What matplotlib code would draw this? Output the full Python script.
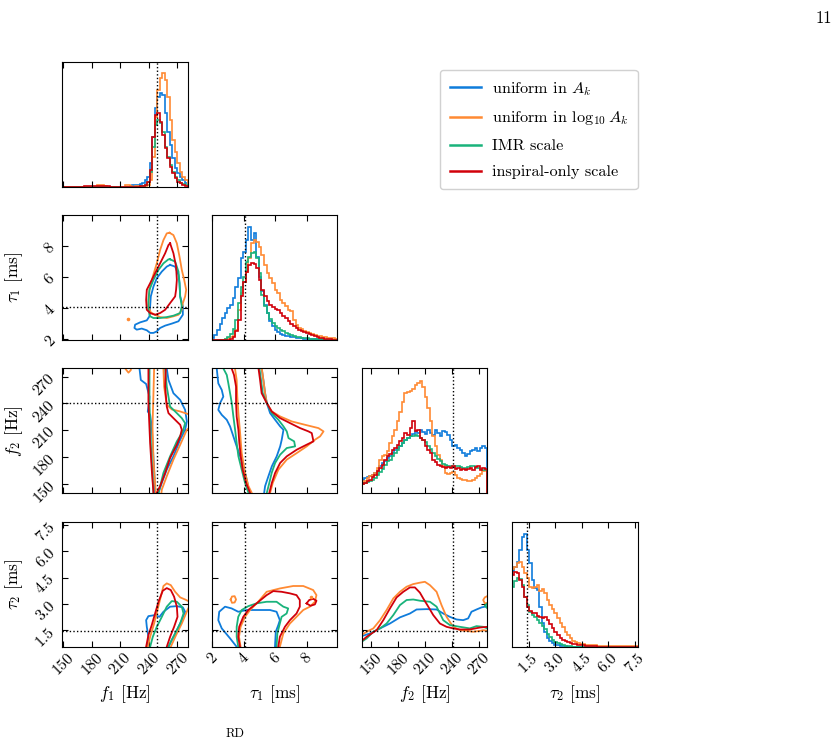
import numpy as np
import matplotlib.pyplot as plt
from matplotlib.lines import Line2D

plt.rcParams['font.family'] = 'serif'
plt.rcParams['font.serif'] = ['cmr10']
plt.rcParams['mathtext.fontset'] = 'cm'
plt.rcParams['axes.unicode_minus'] = False
plt.rcParams['axes.formatter.use_mathtext'] = True

# parameters: f1, tau1, f2, tau2
axis_labels = [r'$f_1$ [Hz]', r'$\tau_1$ [ms]', r'$f_2$ [Hz]', r'$\tau_2$ [ms]']
limits = [(148.3, 280.6), (1.96, 9.97), (139.6, 279.4), (0.55, 7.65)]
ticks = [[150, 180, 210, 240, 270], [2, 4, 6, 8], [150, 180, 210, 240, 270], [1.5, 3.0, 4.5, 6.0, 7.5]]
tick_labels = [['150', '180', '210', '240', '270'], ['2', '4', '6', '8'],
               ['150', '180', '210', '240', '270'], ['1.5', '3.0', '4.5', '6.0', '7.5']]
truths = [248.3, 4.05, 241.0, 1.43]

series = ['uniform in $A_k$', r'uniform in $\log_{10} A_k$', 'IMR scale', 'inspiral-only scale']
colors = ['#0F7CDB', '#FF8A33', '#19B37B', '#D1000A']

# ---- 1D marginals (arbitrary units) ----
f1_edges = np.linspace(148.3, 280.6, 51)
f1_blue = [0] * 27 + [3, 4, 5, 6] + [8, 12, 20, 30, 70, 150, 235, 270, 280, 275, 220, 165, 125, 85, 55, 40, 28, 20, 12]
f1_orange = [0] * 14 + [4, 5, 5, 3] + [0] * 7 + [4, 5, 3] + [0, 2, 2] + \
    [3, 3, 3, 5, 20, 90, 210, 290, 325, 340, 320, 270, 200, 140, 105, 70, 45, 30, 20]
f1_green = [0] * 31 + [2, 3, 5, 15, 45, 120, 185, 200, 190, 165, 120, 90, 65, 45, 30, 20, 12, 8, 5]
f1_red = [0] * 9 + [2, 2, 1, 2, 2, 1, 2, 2, 1, 2] + [0] * 12 + \
    [2, 3, 5, 15, 50, 150, 215, 220, 195, 155, 115, 85, 60, 40, 25, 15, 10, 5, 3]

tau1_edges = np.linspace(1.96, 9.97, 49)
tau1_blue = [5, 15, 30, 48, 65, 80, 95, 105, 125, 160, 185, 245, 265, 300, 340, 300, 320, 250, 190, 145,
             105, 80, 55, 40, 30, 22, 17, 14, 12, 10, 8, 7, 6, 5, 4, 3, 3, 2, 2, 1, 1, 1, 0, 0, 0, 0, 0, 0]
tau1_orange = [0, 0, 0, 0, 0, 2, 5, 8, 12, 30, 90, 140, 175, 205, 245, 290, 300, 295, 280, 255,
               225, 200, 185, 170, 150, 140, 120, 110, 100, 90, 85, 60, 45, 36, 32, 26, 24, 20, 17, 15,
               12, 10, 9, 8, 6, 5, 4, 3]
tau1_green = [0, 0, 0, 0, 0, 3, 8, 18, 32, 60, 110, 160, 190, 235, 250, 262, 265, 245, 200, 135,
              100, 80, 62, 50, 42, 36, 30, 25, 20, 16, 13, 11, 9, 7, 6, 5, 4, 3, 2, 2, 1, 1, 1, 0, 0, 0, 0, 0]
tau1_red = [0, 0, 0, 0, 0, 0, 0, 3, 8, 25, 60, 130, 175, 205, 225, 230, 228, 215, 180, 150,
            130, 115, 105, 98, 92, 88, 80, 72, 65, 55, 48, 42, 35, 30, 26, 22, 19, 17, 14, 10,
            8, 6, 4, 3, 2, 1, 0, 0]

f2_edges = np.linspace(139.6, 279.4, 51)
f2_blue = [38, 45, 48, 52, 55, 60, 65, 80, 90, 95, 105, 110, 120, 128, 135, 140, 150, 158, 165, 170,
           178, 185, 180, 188, 182, 178, 190, 180, 175, 188, 180, 170, 185, 182, 175, 160, 140, 145, 135, 130,
           120, 110, 118, 125, 130, 135, 125, 135, 142, 135]
f2_orange = [30, 35, 45, 52, 55, 60, 75, 100, 110, 115, 125, 150, 170, 190, 215, 245, 275, 300, 305, 308,
             312, 325, 330, 338, 320, 290, 255, 215, 170, 140, 115, 100, 80, 60, 58, 60, 62, 55, 45, 42,
             40, 40, 35, 35, 40, 45, 52, 58, 65, 70]
f2_green = [28, 30, 33, 36, 40, 45, 55, 62, 72, 85, 95, 100, 112, 120, 130, 142, 150, 158, 165, 170,
            172, 175, 170, 165, 160, 152, 140, 132, 120, 112, 102, 95, 88, 85, 82, 80, 78, 80, 82, 78,
            76, 75, 78, 80, 82, 76, 75, 72, 70, 68]
f2_red = [28, 30, 35, 40, 48, 55, 65, 75, 85, 100, 110, 118, 128, 135, 145, 155, 165, 180, 175, 195,
          215, 185, 190, 165, 160, 140, 130, 120, 100, 92, 85, 80, 78, 75, 78, 75, 80, 72, 75, 70,
          72, 68, 72, 75, 70, 78, 80, 70, 75, 72]

tau2_edges = np.linspace(0.55, 7.65, 51)
tau2_blue = [228, 238, 255, 290, 330, 338, 290, 250, 200, 175, 170, 120, 70, 45, 25, 18, 10, 6, 4, 3,
             2, 1] + [0] * 28
tau2_orange = [232, 240, 250, 255, 240, 222, 205, 180, 175, 180, 185, 168, 172, 160, 140, 125, 112, 100, 85, 70,
               58, 45, 35, 25, 18, 14, 11, 9, 8, 6, 5, 5, 4, 4, 3, 3, 3, 2, 2, 2,
               2, 2, 1, 1, 1, 1, 1, 1, 1, 1]
tau2_green = [180, 198, 205, 202, 185, 150, 125, 105, 95, 88, 80, 72, 62, 52, 38, 28, 20, 14, 10, 7,
              5, 3, 2, 1] + [0] * 26
tau2_red = [215, 225, 220, 200, 180, 150, 120, 108, 102, 100, 92, 88, 85, 90, 80, 68, 55, 45, 35, 27,
            20, 16, 13, 10, 9, 7, 6, 5, 4, 3, 3, 2, 2, 1] + [0] * 16

hist_edges = [f1_edges, tau1_edges, f2_edges, tau2_edges]
hist_values = [[f1_blue, f1_orange, f1_green, f1_red],
               [tau1_blue, tau1_orange, tau1_green, tau1_red],
               [f2_blue, f2_orange, f2_green, f2_red],
               [tau2_blue, tau2_orange, tau2_green, tau2_red]]
hist_top = [373, 375, 375, 373]

# ---- 90% credible contours, (x, y) vertices ----
# f1 (x) vs tau1 (y)
f1_tau1_blue = [(262.3, 6.77), (267.6, 6.66), (271.1, 6.13), (272.2, 5.59), (272.9, 4.74), (275.7, 4.10),
                (275.7, 3.56), (271.1, 3.14), (264.1, 2.99), (257.1, 2.86), (251.8, 2.71), (248.3, 2.49),
                (244.8, 2.39), (241.3, 2.39), (237.8, 2.56), (232.5, 2.67), (227.2, 2.60), (224.8, 2.71),
                (225.5, 2.92), (230.8, 3.07), (237.8, 3.20), (240.6, 3.46), (241.3, 4.10), (242.0, 4.74),
                (244.8, 5.38), (248.3, 5.91), (253.6, 6.34), (258.8, 6.66), (262.3, 6.77)]
f1_tau1_orange = [(261.6, 8.84), (265.8, 8.69), (269.4, 8.16), (272.2, 7.30), (274.6, 6.45), (277.1, 5.81),
                  (279.2, 5.17), (278.1, 4.74), (275.7, 4.31), (274.6, 3.88), (271.1, 3.56), (265.8, 3.46),
                  (258.8, 3.35), (251.8, 3.41), (246.5, 3.56), (242.0, 3.71), (239.5, 4.10), (240.6, 5.17),
                  (244.1, 6.02), (248.3, 6.87), (251.8, 7.73), (255.3, 8.37), (258.8, 8.80), (261.6, 8.84)]
f1_tau1_green = [(262.3, 7.13), (267.6, 6.98), (271.1, 6.34), (272.2, 5.59), (272.9, 4.74), (274.6, 4.10),
                 (272.9, 3.67), (265.8, 3.50), (258.8, 3.41), (251.8, 3.35), (244.8, 3.35), (241.3, 3.46),
                 (239.5, 3.88), (239.5, 4.52), (240.6, 5.17), (244.8, 5.81), (250.1, 6.45), (255.3, 6.87),
                 (260.6, 7.13), (262.3, 7.13)]
f1_tau1_red = [(262.3, 8.16), (265.8, 7.52), (268.6, 6.66), (269.4, 5.81), (268.6, 5.17), (267.6, 4.74),
               (262.3, 4.31), (257.1, 3.88), (251.8, 3.67), (246.5, 3.56), (241.3, 3.67), (237.8, 3.88),
               (237.1, 4.52), (237.8, 5.17), (241.3, 5.59), (246.5, 6.23), (251.8, 6.87), (257.1, 7.52),
               (260.6, 8.05), (262.3, 8.16)]
f1_tau1_orange_dot = [(218.5, 3.31)]

# f1 (x) vs f2 (y)
f1_f2_blue = [(230.1, 285), (230.1, 279.4), (231.5, 266.4), (237.1, 261.9), (240.6, 247.7), (240.2, 240.3),
              (238.8, 231.0), (241.3, 227.2), (243.0, 214.2), (244.1, 191.8), (245.5, 165.7), (246.5, 139.6),
              (246.8, 134), (249.0, 134), (250.1, 139.6), (253.6, 150.8), (258.8, 165.7), (265.8, 180.6),
              (272.9, 199.3), (278.1, 210.4), (279.9, 219.8), (278.1, 232.8), (272.9, 244.0), (265.8, 251.5),
              (260.6, 266.4), (258.8, 279.4), (258.8, 285)]
f1_f2_orange = [(245.5, 285), (245.5, 279.4), (244.8, 251.5), (243.8, 214.2), (244.8, 176.9), (247.2, 139.6),
                (247.5, 134), (252.5, 134), (253.6, 143.3), (258.8, 158.2), (265.8, 176.9), (272.9, 193.6),
                (279.9, 210.4), (284, 214), (284, 227.5), (279.9, 228.5), (272.9, 231.0), (264.1, 233.3),
                (258.8, 238.5), (256.0, 258.9), (255.3, 279.4), (255.3, 285)]
f1_f2_orange_hook = [(215.0, 285), (215.0, 279.4), (218.5, 274.6), (221.0, 277.5), (221.5, 285)]
f1_f2_green = [(240.6, 285), (240.6, 279.4), (240.6, 240.3), (242.0, 195.5), (244.8, 139.6), (245.0, 134),
               (249.0, 134), (250.1, 139.6), (255.3, 162.0), (262.3, 180.6), (269.4, 197.4), (275.7, 208.6),
               (278.1, 217.9), (274.6, 223.5), (269.4, 229.1), (262.3, 236.5), (258.8, 258.9), (257.1, 279.4),
               (257.1, 285)]
f1_f2_red = [(239.5, 285), (239.5, 240.3), (241.3, 195.5), (243.0, 165.7), (244.8, 139.6), (245.0, 134),
             (247.5, 134), (248.3, 139.6), (251.8, 147.1), (257.1, 162.0), (262.3, 178.7), (269.4, 193.6),
             (272.9, 203.0), (274.6, 210.4), (272.9, 216.0), (265.8, 223.5), (260.6, 229.1), (258.8, 236.5),
             (257.1, 258.9), (257.8, 279.4), (257.8, 285)]

# tau1 (x) vs f2 (y)
tau1_f2_blue = [(2.28, 285), (2.28, 279.4), (2.38, 262.6), (2.60, 255.2), (2.70, 247.7), (2.49, 240.3),
                (2.38, 232.8), (2.60, 227.2), (2.92, 221.6), (3.13, 214.2), (3.34, 203.0), (3.55, 191.8),
                (3.77, 180.6), (3.98, 169.4), (4.19, 154.5), (4.36, 139.6), (4.40, 134), (5.28, 134),
                (5.30, 139.6), (5.36, 147.1), (5.57, 158.2), (5.79, 169.4), (6.10, 180.6), (6.32, 191.8),
                (6.42, 199.3), (6.53, 210.4), (6.32, 214.2), (6.00, 221.6), (5.68, 229.1), (5.47, 240.3),
                (5.36, 251.5), (5.25, 266.4), (5.14, 279.4), (5.04, 285)]
tau1_f2_orange = [(3.44, 285), (3.44, 279.4), (3.55, 266.4), (3.59, 247.7), (3.66, 229.1), (3.77, 206.7),
                  (3.87, 184.3), (4.08, 162.0), (4.30, 147.1), (4.51, 139.6), (4.55, 134), (5.65, 134),
                  (5.68, 139.6), (5.85, 150.8), (6.21, 165.7), (6.74, 176.9), (7.38, 184.3), (8.01, 191.8),
                  (8.54, 199.3), (8.86, 203.0), (9.08, 208.6), (8.76, 212.3), (7.91, 216.0), (7.06, 219.8),
                  (6.32, 225.4), (5.79, 231.0), (5.47, 240.3), (5.36, 251.5), (5.25, 266.4), (5.15, 279.4),
                  (5.15, 285)]
tau1_f2_green = [(2.70, 285), (2.70, 279.4), (2.92, 272.0), (3.02, 262.6), (3.13, 251.5), (3.24, 240.3),
                 (3.34, 225.4), (3.45, 210.4), (3.55, 195.5), (3.66, 180.6), (3.87, 165.7), (4.08, 150.8),
                 (4.30, 139.6), (4.35, 134), (5.45, 134), (5.47, 139.6), (5.63, 150.8), (5.78, 162.0),
                 (6.00, 173.2), (6.32, 182.5), (6.74, 189.9), (7.27, 191.8), (7.21, 197.4), (6.85, 201.1),
                 (6.74, 208.6), (6.53, 214.2), (6.21, 221.6), (5.79, 229.1), (5.47, 240.3), (5.21, 251.5),
                 (5.10, 266.4), (5.00, 279.4), (5.00, 285)]
tau1_f2_red = [(3.23, 285), (3.23, 279.4), (3.38, 272.0), (3.51, 258.9), (3.51, 240.3), (3.55, 225.4),
               (3.66, 210.4), (3.72, 195.5), (3.81, 180.6), (3.93, 165.7), (4.15, 150.8), (4.40, 139.6),
               (4.45, 134), (5.60, 134), (5.63, 139.6), (5.79, 150.8), (6.00, 162.0), (6.32, 173.2),
               (6.74, 180.6), (7.38, 188.1), (8.01, 193.7), (8.44, 197.4), (8.33, 206.7), (8.12, 208.6),
               (7.59, 212.3), (6.95, 217.9), (6.32, 223.5), (5.78, 231.0), (5.47, 240.3), (5.14, 251.5),
               (5.04, 266.4), (4.94, 279.4), (4.94, 285)]

# f1 (x) vs tau2 (y)
f1_tau2_blue = [(239.0, 0.26), (238.5, 0.55), (239.5, 1.12), (237.8, 1.69), (237.1, 2.07), (239.5, 2.30),
                (246.5, 2.36), (251.1, 2.26), (255.3, 2.55), (262.3, 2.84), (269.4, 2.87), (275.7, 2.80),
                (278.1, 2.55), (274.6, 2.07), (269.4, 1.50), (264.1, 0.93), (260.6, 0.55), (258.8, 0.26)]
f1_tau2_orange = [(237.8, 0.26), (238.8, 0.55), (241.3, 1.12), (245.5, 1.88), (249.0, 2.65), (252.5, 3.41),
                  (255.3, 4.02), (258.8, 4.17), (263.0, 4.07), (267.6, 3.69), (272.9, 3.37), (278.1, 3.25),
                  (280.6, 3.18), (283.4, 3.12), (283.4, 2.95), (280.6, 2.65), (274.6, 1.88), (268.6, 1.22),
                  (263.0, 0.55), (261.6, 0.26)]
f1_tau2_green = [(240.2, 0.26), (241.3, 0.55), (244.1, 1.12), (248.3, 1.69), (253.6, 2.26), (258.8, 2.84),
                 (264.1, 3.16), (269.4, 3.12), (274.6, 2.84), (276.4, 2.45), (272.9, 1.88), (267.6, 1.31),
                 (263.0, 0.84), (260.6, 0.55), (259.5, 0.26)]
f1_tau2_red = [(236.0, 0.26), (237.1, 0.55), (239.5, 1.22), (243.0, 1.79), (246.5, 2.45), (250.1, 3.12),
               (254.6, 3.75), (258.8, 3.90), (263.0, 3.79), (266.5, 3.41), (269.4, 2.84), (270.1, 2.26),
               (266.5, 1.69), (262.3, 1.12), (258.8, 0.55), (257.8, 0.26)]

# tau1 (x) vs tau2 (y)
tau1_tau2_blue = [(3.65, 0.26), (3.55, 0.55), (3.13, 1.03), (2.60, 1.60), (2.38, 2.07), (2.44, 2.55),
                  (2.81, 2.84), (3.23, 2.74), (3.65, 2.55), (4.18, 2.65), (5.03, 2.65), (5.67, 2.65),
                  (6.09, 2.55), (6.30, 2.07), (6.20, 1.79), (6.04, 1.41), (5.99, 0.55), (5.99, 0.26)]
tau1_tau2_orange = [(3.87, 0.26), (3.80, 0.55), (3.70, 1.12), (3.80, 1.69), (4.08, 2.26), (4.40, 2.65),
                    (4.92, 3.12), (5.46, 3.69), (6.30, 3.88), (7.15, 4.02), (7.79, 4.02), (8.42, 3.79),
                    (8.63, 3.50), (8.53, 3.12), (8.21, 2.84), (7.79, 2.65), (7.36, 2.26), (6.94, 1.88),
                    (6.52, 1.31), (6.30, 0.55), (6.28, 0.26)]
tau1_tau2_orange_ring = [(3.17, 3.25), (3.25, 3.42), (3.42, 3.44), (3.51, 3.25), (3.42, 3.08), (3.25, 3.06),
                         (3.17, 3.25)]
tau1_tau2_orange_dot = [(8.27, 3.37)]
tau1_tau2_green = [(3.70, 0.26), (3.65, 0.55), (3.55, 1.12), (3.55, 1.69), (3.65, 2.26), (3.87, 2.65),
                   (4.29, 2.87), (4.82, 3.03), (5.46, 3.12), (6.09, 3.12), (6.52, 2.84), (6.83, 2.74),
                   (6.73, 2.45), (6.41, 2.26), (6.30, 1.88), (6.14, 1.31), (6.09, 0.55), (6.09, 0.26)]
tau1_tau2_red = [(3.80, 0.26), (3.76, 0.55), (3.65, 1.12), (3.71, 1.69), (3.97, 2.26), (4.29, 2.65),
                 (4.82, 3.03), (5.46, 3.50), (5.88, 3.73), (6.41, 3.69), (6.94, 3.60), (7.36, 3.50),
                 (7.57, 3.22), (7.57, 2.84), (7.36, 2.45), (6.94, 2.07), (6.62, 1.69), (6.30, 1.12),
                 (6.20, 0.55), (6.18, 0.26)]
tau1_tau2_red_ring = [(8.00, 3.03), (8.17, 3.22), (8.42, 3.29), (8.63, 3.18), (8.53, 2.97), (8.25, 2.89),
                      (8.00, 3.03)]

# f2 (x) vs tau2 (y)
f2_tau2_blue = [(137, 1.10), (139.6, 1.16), (148.8, 1.31), (160.0, 1.60), (171.0, 1.88), (182.1, 2.23),
                (193.2, 2.45), (200.6, 2.68), (211.7, 2.70), (222.8, 2.68), (230.2, 2.45), (237.6, 2.26),
                (245.0, 2.11), (252.4, 2.07), (257.9, 2.17), (261.6, 2.55), (267.2, 2.68), (272.8, 2.80),
                (279.4, 2.87), (283, 2.92), (283, 0.3), (137, 0.3)]
f2_tau2_orange = [(137, 1.15), (139.6, 1.22), (145.1, 1.41), (152.5, 1.60), (160.0, 2.07), (167.3, 2.65),
                  (174.7, 3.31), (182.1, 3.69), (189.5, 3.98), (196.9, 4.13), (204.3, 4.21), (209.8, 4.26),
                  (215.4, 4.07), (222.8, 3.69), (228.3, 2.93), (233.9, 2.26), (241.3, 1.69), (248.7, 1.50),
                  (256.1, 1.46), (263.5, 1.41), (270.9, 1.46), (274.6, 1.50), (279.4, 1.46), (283, 1.46),
                  (283, 0.3), (137, 0.3)]
f2_tau2_orange_hook = [(283, 3.47), (279.4, 3.45), (276.4, 3.37), (274.6, 3.22), (276.4, 3.03), (279.4, 3.06),
                       (283, 3.08)]
f2_tau2_green = [(137, 0.78), (139.6, 0.84), (145.1, 1.03), (152.5, 1.41), (160.0, 1.60), (167.3, 1.88),
                 (174.7, 2.36), (182.1, 2.93), (189.5, 3.22), (196.9, 3.25), (204.3, 3.18), (215.4, 3.12),
                 (222.8, 2.84), (230.2, 2.07), (237.6, 1.79), (248.7, 1.69), (259.8, 1.60), (267.2, 1.73),
                 (274.6, 1.69), (279.4, 1.60), (283, 1.58), (283, 0.3), (137, 0.3)]
f2_tau2_green_hook = [(283, 3.10), (279.4, 3.03), (276.4, 2.90), (279.4, 2.74), (283, 2.70)]
f2_tau2_red = [(137, 0.83), (139.6, 0.89), (145.1, 1.12), (150.6, 1.31), (156.2, 1.50), (163.6, 2.07),
               (171.0, 2.74), (178.4, 3.37), (185.8, 3.69), (193.2, 3.94), (198.7, 3.94), (204.3, 3.64),
               (208.0, 3.31), (213.6, 2.84), (219.1, 2.36), (226.5, 1.88), (233.9, 1.69), (241.3, 1.60),
               (248.7, 1.54), (259.8, 1.54), (270.9, 1.65), (279.4, 1.69), (283, 1.69), (283, 0.3), (137, 0.3)]

# (row, col) -> list of (series index, vertices)
contours = {
    (1, 0): [(0, f1_tau1_blue), (1, f1_tau1_orange), (2, f1_tau1_green), (3, f1_tau1_red)],
    (2, 0): [(0, f1_f2_blue), (1, f1_f2_orange), (1, f1_f2_orange_hook), (2, f1_f2_green), (3, f1_f2_red)],
    (2, 1): [(0, tau1_f2_blue), (1, tau1_f2_orange), (2, tau1_f2_green), (3, tau1_f2_red)],
    (3, 0): [(0, f1_tau2_blue), (1, f1_tau2_orange), (2, f1_tau2_green), (3, f1_tau2_red)],
    (3, 1): [(0, tau1_tau2_blue), (1, tau1_tau2_orange), (1, tau1_tau2_orange_ring), (2, tau1_tau2_green),
             (3, tau1_tau2_red), (3, tau1_tau2_red_ring)],
    (3, 2): [(0, f2_tau2_blue), (1, f2_tau2_orange), (1, f2_tau2_orange_hook), (2, f2_tau2_green),
             (2, f2_tau2_green_hook), (3, f2_tau2_red)],
}
dots = {(1, 0): [(1, f1_tau1_orange_dot)], (3, 1): [(1, tau1_tau2_orange_dot)]}

# ---- figure ----
fig = plt.figure(figsize=(8.4, 7.4), dpi=100)
W, H = 840.0, 740.0
col_left = [61.7, 211.7, 361.7, 511.7]
row_top = [62.3, 215.2, 368.4, 522.4]
pw, ph = 125.8, 124.4
dot_style = (0, (1, 1.6))

for i in range(4):
    for j in range(i + 1):
        ax = fig.add_axes([col_left[j] / W, 1 - (row_top[i] + ph) / H, pw / W, ph / H])
        for s in ax.spines.values():
            s.set_linewidth(0.8)
        ax.tick_params(direction='in', top=True, right=True, length=4, width=0.8,
                       labelsize=11.5, pad=3)

        if i == j:
            for k in range(4):
                ax.stairs(hist_values[i][k], hist_edges[i], color=colors[k], lw=1.2)
            ax.axvline(truths[j], color='k', ls=dot_style, lw=1.0)
            ax.set_ylim(0, hist_top[i])
            ax.set_yticks([])
        else:
            for k, pts in contours[(i, j)]:
                pts = np.array(pts)
                ax.plot(pts[:, 0], pts[:, 1], color=colors[k], lw=1.3)
            for k, pts in dots.get((i, j), []):
                pts = np.array(pts)
                ax.plot(pts[:, 0], pts[:, 1], 'o', color=colors[k], ms=1.6)
            ax.axvline(truths[j], color='k', ls=dot_style, lw=1.0)
            ax.axhline(truths[i], color='k', ls=dot_style, lw=1.0)
            ax.set_ylim(limits[i])
            ax.set_yticks(ticks[i])
            if j == 0:
                ax.set_yticklabels(tick_labels[i], rotation=45)
                ax.set_ylabel(axis_labels[i], fontsize=12.5)
                ax.yaxis.set_label_coords(-0.29, 0.5)
            else:
                ax.tick_params(labelleft=False)

        ax.set_xlim(limits[j])
        ax.set_xticks(ticks[j])
        if i == 3:
            ax.set_xticklabels(tick_labels[j], rotation=45)
            ax.set_xlabel(axis_labels[j], fontsize=12.5)
            ax.xaxis.set_label_coords(0.5, -0.29)
        else:
            ax.tick_params(labelbottom=False)

handles = [Line2D([], [], color=c, lw=1.8) for c in colors]
fig.legend(handles, series, loc='upper left', bbox_to_anchor=(440 / W, 1 - 70 / H),
           fontsize=11.7, frameon=True, edgecolor='0.82', framealpha=1.0, fancybox=True,
           handlelength=1.9, labelspacing=0.72, borderpad=0.6, handletextpad=0.7, borderaxespad=0)

fig.text(0.99, 0.985, '11', ha='right', va='top', fontsize=12)
fig.text(0.268, 0.0, 'RD', ha='left', va='bottom', fontsize=9)

fig.savefig('out.png', dpi=100)
